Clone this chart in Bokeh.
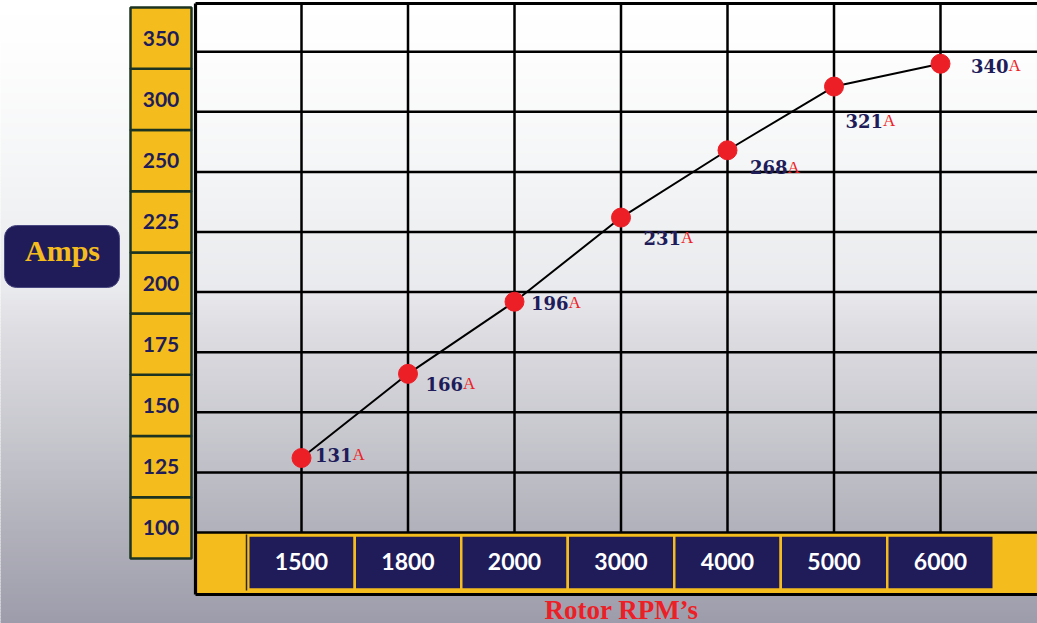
import numpy as np
from bokeh.plotting import figure
from bokeh.models import Range1d
from bokeh.core.properties import value
from bokeh.embed import file_html
from bokeh.resources import INLINE

# ---------------- data ----------------
rpm_labels = ["1500", "1800", "2000", "3000", "4000", "5000", "6000"]
amps = [131, 166, 196, 231, 268, 321, 340]
amp_ticks = [100, 125, 150, 175, 200, 225, 250, 300, 350]
y_title = "Amps"
x_title = "Rotor RPM\u2019s"
unit = "A"

# label placement (pixels): dx to end of number, dy (down positive)
label_dx = [51, 55, 54, 60, 60, 49, 68]
label_dy = [-3, 10, 1, 20, 17, 34, 2]

# ---------------- layout ----------------
W, H = 1037, 623
PX, X0 = 106.5, 301   # pixels per category, px of first category
PY, Y0 = 60.1, 532    # pixels per tick step, px of first tick


def X(rx):
    return (rx - X0) / PX


def Y(ry):
    return (Y0 - ry) / PY


NAVY = "#201C5A"
GOLD = "#F5BC1E"
RED = "#EC1F27"
GREEN = "#1B3320"

p = figure(width=W, height=H, output_backend="svg", toolbar_location=None,
           x_range=Range1d(X(0), X(W)), y_range=Range1d(Y(H), Y(0)),
           x_axis_location=None, y_axis_location=None, min_border=0)
p.grid.visible = False
p.outline_line_color = None
p.background_fill_color = "white"
p.border_fill_color = "white"

# background gradient
stops_y = [0, 55, 160, 290, 330, 430, 530, 623]
stops_c = np.array([(255, 255, 255), (253, 253, 253), (245, 246, 247), (233, 234, 237),
                    (221, 221, 226), (200, 200, 207), (177, 177, 187), (157, 156, 171)], float)
ys = np.arange(0, H + 3, 3)
cols = []
for ry in ys:
    c = [int(round(np.interp(ry + 1.5, stops_y, stops_c[:, j]))) for j in range(3)]
    cols.append("#%02x%02x%02x" % tuple(c))
p.quad(left=X(-5), right=X(W + 5), top=[Y(r) for r in ys], bottom=[Y(r + 3.5) for r in ys],
       fill_color=cols, line_color=None)

# bottom band
p.quad(left=X(195), right=X(W + 5), top=Y(532), bottom=Y(594), fill_color=GOLD, line_color=None)

# grid lines
n_t = len(amp_ticks)
n_c = len(rpm_labels)
p.segment(x0=[X(195)] * n_t, x1=[X(W + 5)] * n_t, y0=list(range(n_t)), y1=list(range(n_t)),
          line_color="black", line_width=2.5)
p.segment(x0=list(range(n_c)), x1=list(range(n_c)), y0=[0] * n_c, y1=[Y(3)] * n_c,
          line_color="black", line_width=2.5)
# frame borders
p.segment(x0=[X(195), X(195), X(195)], x1=[X(W + 5), X(195), X(W + 5)],
          y0=[Y(3), Y(3), Y(594)], y1=[Y(3), Y(594), Y(594)],
          line_color="black", line_width=3.2)

# x category boxes
xi = np.arange(n_c)
p.quad(left=xi - 0.5, right=xi + 0.5, top=Y(535), bottom=Y(589),
       fill_color=NAVY, line_color=GOLD, line_width=2.5)
p.segment(x0=[X(246)], x1=[X(246)], y0=[Y(534)], y1=[Y(590)], line_color="#2a2a2a", line_width=1.5)
p.text(x=xi, y=Y(561), text=rpm_labels, text_align="center", text_baseline="middle",
       text_color="white", text_font=value("Lato"), text_font_style="bold", text_font_size="23px")

# y tick boxes
box_top, box_bot = 7, 558
bh = (box_bot - box_top) / n_t
kk = np.arange(n_t)
b_bottom = [Y(box_bot - k * bh) for k in kk]
b_top = [Y(box_bot - (k + 1) * bh) for k in kk]
p.quad(left=X(130), right=X(191), top=b_top, bottom=b_bottom,
       fill_color=GOLD, line_color=GREEN, line_width=2.5)
p.text(x=X(160.5), y=[(a + b) / 2 for a, b in zip(b_top, b_bottom)], text=[str(t) for t in amp_ticks],
       text_align="center", text_baseline="middle", text_color=NAVY,
       text_font=value("Lato"), text_font_style="bold", text_font_size="21px")

# y title box
p.quad(left=X(4), right=X(119), top=Y(225), bottom=Y(287), border_radius=12,
       fill_color=NAVY, line_color="#4a4880", line_width=1)
p.text(x=X(62), y=Y(250), text=[y_title], text_align="center", text_baseline="middle",
       text_color=GOLD, text_font=value("Liberation Serif"), text_font_style="bold",
       text_font_size="30px")

# x title
p.text(x=X(621), y=Y(609), text=[x_title], text_align="center", text_baseline="middle",
       text_color=RED, text_font=value("Liberation Serif"), text_font_style="bold",
       text_font_size="27px")

# data
yi = np.interp(amps, amp_ticks, np.arange(n_t))
p.line(xi, yi, line_color="black", line_width=2)
p.scatter(xi, yi, size=19, fill_color=RED, line_color=RED)
lx = xi + np.array(label_dx) / PX
ly = yi - np.array(label_dy) / PY
p.text(x=lx, y=ly, text=[str(a) for a in amps], text_align="right", text_baseline="middle",
       text_color=NAVY, text_font=value("DejaVu Serif"), text_font_style="bold",
       text_font_size="18px")
p.text(x=lx, y=ly, text=[unit] * n_c, text_align="left", text_baseline="middle",
       text_color=RED, text_font=value("Liberation Serif"), text_font_size="17px")

open("out.html", "w").write(file_html(p, INLINE))
